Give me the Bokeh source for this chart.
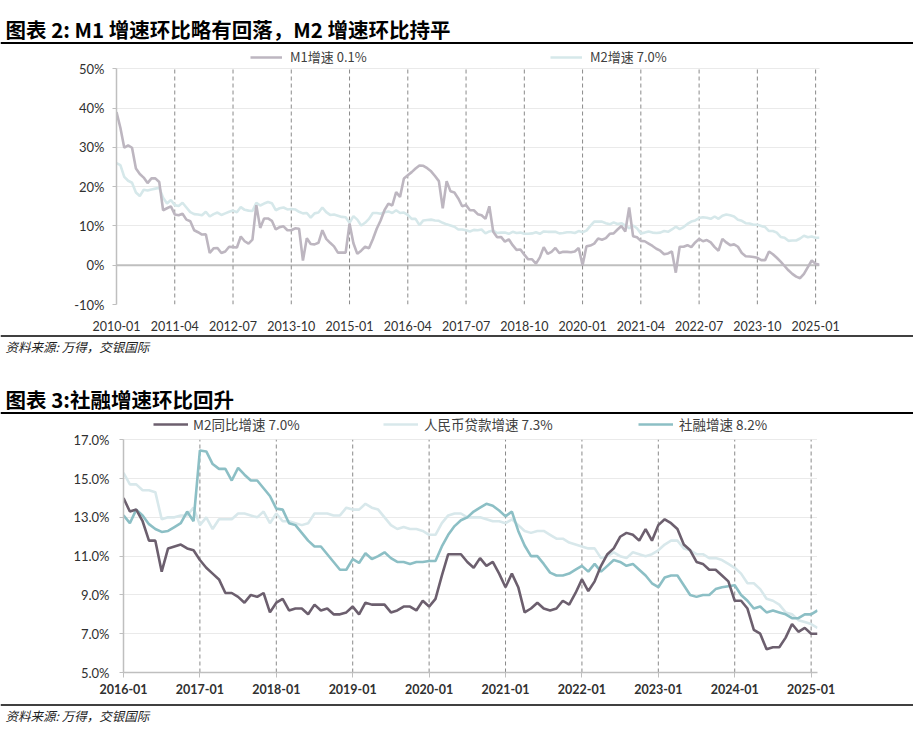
from bokeh.plotting import figure
from bokeh.models import (Range1d, FixedTicker, PrintfTickFormatter, Span, Label,
                          Legend, LegendItem, ColumnDataSource)
from bokeh.embed import file_html
from bokeh.resources import INLINE

# ---------------- data ----------------
title1 = "图表 2: M1 增速环比略有回落，M2 增速环比持平"
title2 = "图表 3:社融增速环比回升"
source_note = "资料来源: 万得，交银国际"

def month_labels(y0, m0, n):
    out, y, m = [], y0, m0
    for _ in range(n):
        out.append(f"{y}-{m:02d}")
        m += 1
        if m > 12:
            m, y = 1, y + 1
    return out

months1 = month_labels(2010, 1, 182)   # 2010-01 .. 2025-02
months2 = month_labels(2016, 1, 110)   # 2016-01 .. 2025-02

m1_growth = [
    39.0, 35.0, 29.9, 30.5, 29.9, 24.6, 23.2, 22.3, 20.9, 22.1, 22.1, 21.2,
    14.0, 14.5, 15.0, 12.9, 12.7, 13.1, 11.6, 11.2, 8.9, 8.4, 7.8, 7.9,
    3.1, 4.3, 4.4, 3.1, 3.5, 4.7, 4.6, 4.5, 7.3, 6.1, 5.5, 6.5,
    15.3, 9.5, 11.9, 11.9, 11.3, 9.1, 9.7, 9.9, 8.9, 8.9, 9.4, 9.3,
    1.2, 6.9, 5.4, 5.3, 5.7, 8.9, 6.7, 5.7, 4.8, 3.2, 3.2, 3.2,
    10.6, 5.6, 2.9, 3.7, 4.7, 4.3, 6.6, 9.3, 11.4, 14.0, 15.7, 15.2,
    18.6, 17.4, 22.1, 22.9, 23.7, 24.6, 25.4, 25.3, 24.7, 23.9, 22.7, 21.4,
    14.5, 21.4, 18.8, 18.5, 17.0, 15.0, 15.3, 14.0, 14.0, 13.0, 12.7, 11.8,
    15.0, 8.5, 7.1, 7.2, 6.0, 6.6, 5.1, 3.9, 4.0, 2.7, 1.5, 1.5,
    0.4, 2.0, 4.6, 2.9, 3.4, 4.4, 3.1, 3.4, 3.4, 3.3, 3.5, 4.4,
    0.0, 4.8, 5.0, 5.5, 6.8, 6.5, 6.9, 8.0, 8.1, 9.1, 10.0, 8.6,
    14.7, 7.4, 7.1, 6.2, 6.1, 5.5, 4.9, 4.2, 3.7, 2.8, 3.0, 3.5,
    -1.9, 4.7, 4.7, 5.1, 4.6, 5.8, 6.7, 6.1, 6.4, 5.8, 4.6, 3.7,
    6.7, 5.8, 5.1, 5.3, 4.7, 3.1, 2.3, 2.2, 2.1, 1.9, 1.3, 1.3,
    3.5, 2.8, 1.9, 0.9, -0.2, -1.3, -2.2, -2.9, -3.3, -2.2, -0.5, 1.2,
    0.4, 0.1,
]

m2_growth_2010_2015 = [
    26.0, 25.5, 22.5, 21.5, 21.0, 18.5, 17.6, 19.2, 19.0, 19.3, 19.5, 19.7,
    17.2, 15.7, 16.6, 15.3, 15.1, 15.9, 14.7, 13.5, 13.0, 12.9, 12.7, 13.6,
    12.4, 13.0, 13.4, 12.8, 13.2, 13.6, 13.9, 13.5, 14.8, 14.1, 13.9, 13.8,
    15.9, 15.2, 15.7, 16.1, 15.8, 14.0, 14.5, 14.7, 14.2, 14.3, 14.2, 13.6,
    13.2, 13.3, 12.1, 13.2, 13.4, 14.7, 13.5, 12.8, 12.9, 12.6, 12.3, 12.2,
    10.8, 12.5, 11.6, 10.1, 10.8, 11.8, 13.3, 13.3, 13.1, 13.5, 13.7, 13.3,
]

m2_growth_2016_2025 = [
    14.0, 13.3, 13.4, 12.8, 11.8, 11.8, 10.2, 11.4, 11.5, 11.6, 11.4, 11.3,
    10.8, 10.4, 10.1, 9.8, 9.1, 9.1, 8.9, 8.6, 9.0, 8.9, 9.1, 8.1,
    8.6, 8.8, 8.2, 8.3, 8.3, 8.0, 8.5, 8.2, 8.3, 8.0, 8.0, 8.1,
    8.4, 8.0, 8.6, 8.5, 8.5, 8.5, 8.1, 8.2, 8.4, 8.4, 8.2, 8.7,
    8.4, 8.8, 10.0, 11.1, 11.1, 11.1, 10.7, 10.4, 10.9, 10.5, 10.7, 10.1,
    9.4, 10.1, 9.4, 8.1, 8.3, 8.6, 8.3, 8.2, 8.3, 8.7, 8.5, 9.1,
    9.8, 9.2, 9.7, 10.5, 11.1, 11.4, 12.0, 12.2, 12.1, 11.8, 12.4, 11.8,
    12.6, 12.9, 12.7, 12.4, 11.6, 11.3, 10.7, 10.6, 10.3, 10.3, 10.0, 9.7,
    8.7, 8.7, 8.3, 7.2, 7.0, 6.2, 6.3, 6.3, 6.8, 7.5, 7.1, 7.3,
    7.0, 7.0,
]

loan_growth = [
    15.3, 14.7, 14.7, 14.4, 14.4, 14.3, 12.9, 13.0, 13.0, 13.1, 13.1, 13.5,
    12.6, 13.0, 12.4, 12.9, 12.9, 12.9, 13.2, 13.2, 13.1, 13.0, 13.3, 12.7,
    13.2, 12.8, 12.8, 12.7, 12.6, 12.7, 13.2, 13.2, 13.2, 13.1, 13.1, 13.5,
    13.4, 13.4, 13.7, 13.5, 13.4, 13.0, 12.6, 12.4, 12.5, 12.4, 12.4, 12.3,
    12.1, 12.1, 12.7, 13.1, 13.2, 13.2, 13.0, 13.0, 13.0, 12.9, 12.8, 12.8,
    12.7, 12.9, 12.6, 12.3, 12.2, 12.3, 12.3, 12.1, 11.9, 11.9, 11.7, 11.6,
    11.5, 11.4, 11.4, 10.9, 11.0, 11.2, 11.0, 10.9, 11.2, 11.1, 11.0, 11.1,
    11.3, 11.6, 11.8, 11.8, 11.4, 11.3, 11.1, 11.1, 10.9, 10.9, 10.8, 10.6,
    10.4, 10.1, 9.6, 9.6, 9.3, 8.8, 8.7, 8.5, 8.1, 8.0, 7.7, 7.6,
    7.5, 7.3,
]

tsf_growth = [
    13.1, 12.7, 13.4, 13.1, 12.65, 12.4, 12.25, 12.3, 12.5, 12.7, 13.3, 12.8,
    16.45, 16.4, 15.75, 15.5, 15.5, 14.9, 15.55, 15.2, 14.9, 14.9, 14.5, 14.1,
    13.45, 13.4, 12.7, 12.6, 12.2, 11.8, 11.5, 11.5, 11.1, 10.7, 10.3, 10.3,
    10.85, 10.65, 11.15, 10.85, 11.0, 11.2, 10.9, 10.7, 10.7, 10.6, 10.7, 10.7,
    10.75, 10.75, 11.5, 12.1, 12.55, 12.85, 13.0, 13.3, 13.5, 13.7, 13.6, 13.35,
    13.05, 13.3, 12.3, 11.55, 11.0, 11.0, 10.6, 10.15, 10.0, 10.0, 10.1, 10.3,
    10.5, 10.2, 10.6, 10.2, 10.5, 10.8, 10.7, 10.5, 10.6, 10.3, 10.0, 9.6,
    9.4, 9.9, 10.0, 10.0, 9.5, 9.0, 8.9, 9.0, 9.0, 9.3, 9.4, 9.45,
    9.5, 9.0, 8.7, 8.3, 8.4, 8.1, 8.2, 8.1, 8.0, 7.8, 7.8, 8.0,
    8.0, 8.2,
]

legend1 = ["M1增速 0.1%", "M2增速 7.0%"]
legend2 = ["M2同比增速 7.0%", "人民币贷款增速 7.3%", "社融增速 8.2%"]

m2_growth_full = m2_growth_2010_2015 + m2_growth_2016_2025

# ---------------- styles ----------------
CJK = "Noto Sans CJK SC"
NUM = "Lato"
C_M1 = "#BDB6C0"
C_M2L = "#D6E8EA"
C_M2D = "#6C5F6E"
C_LOAN = "#D8E8EB"
C_TSF = "#8CBFC5"
GRID_H = "#D4D4D4"
GRID_V = "#8A8A8A"
AX = "#BFBFBF"
W = 913
TOP = 1   # image y of the first canvas row


def strip(h):
    p = figure(frame_width=W, frame_height=h, x_range=Range1d(0, W), y_range=Range1d(h, 0),
               x_axis_type=None, y_axis_type=None,
               min_border_left=0, min_border_right=0, min_border_top=0, min_border_bottom=0,
               output_backend="svg", toolbar_location=None,
               outline_line_color=None, background_fill_color="white",
               border_fill_color="white")
    p.xgrid.visible = False
    p.ygrid.visible = False
    return p


def strip_text(p, x, y, text, size, bold=False, italic=False, color="black"):
    style = "bold" if bold else ("italic" if italic else "normal")
    p.add_layout(Label(x=x, y=y, text=text, text_font=CJK, text_font_size=size,
                       text_font_style=style, text_color=color,
                       text_baseline="middle", text_align="left"))


def strip_rule(p, y, width):
    p.add_layout(Span(location=y, dimension="width", line_color="black", line_width=width))


def chart(fl, fw, fh, fb, xr, yr):
    p = figure(frame_width=fw, frame_height=fh,
               min_border_left=fl, min_border_top=0,
               min_border_right=W - fl - fw, min_border_bottom=fb,
               x_range=Range1d(*xr), y_range=Range1d(*yr),
               output_backend="svg", toolbar_location=None,
               outline_line_color=None, background_fill_color="white",
               border_fill_color="white")
    p.ygrid.grid_line_color = GRID_H
    p.ygrid.grid_line_dash = "1 1"
    p.ygrid.grid_line_width = 1
    p.xgrid.visible = False
    for ax in (p.xaxis[0], p.yaxis[0]):
        ax.minor_tick_line_color = None
        ax.major_label_text_font = NUM
        ax.major_label_text_color = "#303030"
    return p


def add_legend(p, label, rend, x, y, gw, standoff, size):
    lg = Legend(items=[LegendItem(label=label, renderers=[rend])], location=(x, y),
                orientation="horizontal", padding=0, margin=0, spacing=0,
                border_line_alpha=0, background_fill_alpha=0,
                glyph_width=gw, glyph_height=14, label_height=14,
                label_standoff=standoff, label_text_font=CJK,
                label_text_font_size=size, label_text_color="#404040")
    p.add_layout(lg, "center")


# ---------------- strip 1: title 1 (image y TOP..47) ----------------
s1 = strip(47 - TOP)
strip_text(s1, 5, 29 - TOP, title1, "20.5px", bold=True)
strip_rule(s1, 43.5 - TOP, 2)

# ---------------- chart 1 (image y 47..331) ----------------
y1_top = 50 + (69.3 - 47) / 3.928
p1 = chart(116, 703, 258, 26, (0, 181), (-10, y1_top))
src1 = ColumnDataSource(dict(x=list(range(len(months1))), m1=m1_growth, m2=m2_growth_full))
ticks1 = list(range(0, len(months1), 15))
p1.xaxis.ticker = FixedTicker(ticks=ticks1)
p1.xaxis.major_label_overrides = {t: months1[t] for t in ticks1}
p1.xaxis.axis_line_color = None
p1.xaxis.major_tick_line_color = None
p1.xaxis.major_label_standoff = 10
p1.xaxis.major_label_text_font_size = "12.5px"
yt1 = [-10, 0, 10, 20, 30, 40, 50]
p1.yaxis.ticker = FixedTicker(ticks=yt1)
p1.yaxis.bounds = (yt1[0], yt1[-1])
p1.yaxis.formatter = PrintfTickFormatter(format="%d%%")
p1.yaxis.axis_line_color = AX
p1.yaxis.axis_line_width = 1.5
p1.yaxis.major_tick_line_color = AX
p1.yaxis.major_tick_out = 4
p1.yaxis.major_tick_in = 0
p1.yaxis.major_label_standoff = 8
p1.yaxis.major_label_text_font_size = "13px"
vg1 = ticks1[1:]
p1.segment(x0=vg1, y0=[yt1[0]] * len(vg1), x1=vg1, y1=[yt1[-1]] * len(vg1),
           line_color=GRID_V, line_dash="4 3", line_width=1)
p1.add_layout(Span(location=0, dimension="width", line_color=AX, line_width=2, level="underlay"))
r_m2 = p1.line("x", "m2", source=src1, line_color=C_M2L, line_width=2.6)
r_m1 = p1.line("x", "m1", source=src1, line_color=C_M1, line_width=2.6)
add_legend(p1, legend1[0], r_m1, 250 - 116, 305 - 67, 32, 8, "13px")
add_legend(p1, legend1[1], r_m2, 550 - 116, 305 - 67, 32, 8, "13px")

# ---------------- strip 2: source 1 + title 2 (image y 331..412) ----------------
s2 = strip(81)
strip_rule(s2, 2.5, 1.6)
strip_text(s2, 5, 13, source_note, "12.5px", italic=True, color="#222222")
strip_text(s2, 5, 65, title2, "20.5px", bold=True)
strip_rule(s2, 79.5, 2)

# ---------------- chart 2 (image y 412..698) ----------------
y2_top = 17 + (437.3 - 412) / 19.39
p2 = chart(123, 694, 258, 28, (0, 109), (5, y2_top))
src2 = ColumnDataSource(dict(x=list(range(len(months2))), m2=m2_growth_2016_2025,
                             loan=loan_growth, tsf=tsf_growth))
ticks2 = list(range(0, len(months2), 12))
p2.xaxis.ticker = FixedTicker(ticks=ticks2)
p2.xaxis.major_label_overrides = {t: months2[t] for t in ticks2}
p2.xaxis.axis_line_color = AX
p2.xaxis.axis_line_width = 1.5
p2.xaxis.major_tick_line_color = AX
p2.xaxis.major_tick_out = 5
p2.xaxis.major_tick_in = 0
p2.xaxis.major_label_standoff = 6
p2.xaxis.major_label_text_font_size = "12.5px"
p2.xaxis.major_label_text_font_style = "bold"
yt2 = [5, 7, 9, 11, 13, 15, 17]
p2.yaxis.ticker = FixedTicker(ticks=yt2)
p2.yaxis.bounds = (yt2[0], yt2[-1])
p2.yaxis.formatter = PrintfTickFormatter(format="%.1f%%")
p2.yaxis.axis_line_color = AX
p2.yaxis.axis_line_width = 1.5
p2.yaxis.major_tick_line_color = AX
p2.yaxis.major_tick_out = 4
p2.yaxis.major_tick_in = 0
p2.yaxis.major_label_standoff = 10
p2.yaxis.major_label_text_font_size = "13px"
vg2 = ticks2[1:]
p2.segment(x0=vg2, y0=[yt2[0]] * len(vg2), x1=vg2, y1=[yt2[-1]] * len(vg2),
           line_color=GRID_V, line_dash="4 3", line_width=1)
r_loan = p2.line("x", "loan", source=src2, line_color=C_LOAN, line_width=2.6)
r_tsf = p2.line("x", "tsf", source=src2, line_color=C_TSF, line_width=2.6)
r_m2d = p2.line("x", "m2", source=src2, line_color=C_M2D, line_width=2.6)
add_legend(p2, legend2[0], r_m2d, 153 - 123, 670 - 432, 35, 5, "13.5px")
add_legend(p2, legend2[1], r_loan, 383 - 123, 670 - 432, 35, 6, "13.5px")
add_legend(p2, legend2[2], r_tsf, 638 - 123, 670 - 432, 35, 6, "13.5px")

# ---------------- strip 3: source 2 (image y 698..730) ----------------
s3 = strip(32)
strip_rule(s3, 4.5, 1.6)
strip_text(s3, 5, 15, source_note, "12.5px", italic=True, color="#222222")

open("out.html", "w").write(file_html([s1, p1, s2, p2, s3], INLINE))
